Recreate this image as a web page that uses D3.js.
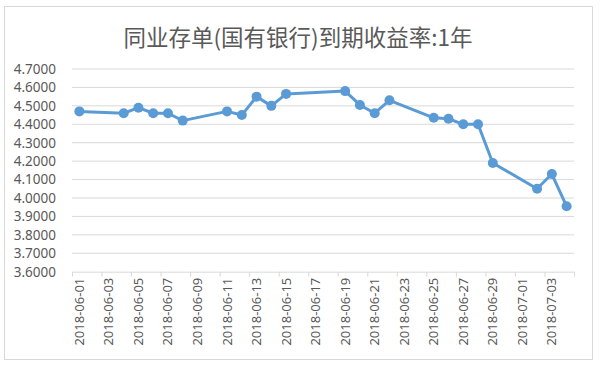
<!DOCTYPE html>
<html>
<head>
<meta charset="utf-8">
<script src="https://cdn.jsdelivr.net/npm/d3@7"></script>
<style>
  html, body { margin: 0; padding: 0; background: #fff; }
  svg { display: block; }
</style>
</head>
<body>
<svg id="chart" width="600" height="365"></svg>
<script>
const title = "同业存单(国有银行)到期收益率:1年";
const dates = ["2018-06-01","2018-06-04","2018-06-05","2018-06-06","2018-06-07","2018-06-08",
  "2018-06-11","2018-06-12","2018-06-13","2018-06-14","2018-06-15",
  "2018-06-19","2018-06-20","2018-06-21","2018-06-22",
  "2018-06-25","2018-06-26","2018-06-27","2018-06-28","2018-06-29",
  "2018-07-02","2018-07-03","2018-07-04"];
const values = [4.47,4.46,4.49,4.46,4.46,4.42,
  4.47,4.45,4.55,4.50,4.565,
  4.58,4.505,4.46,4.53,
  4.435,4.43,4.40,4.40,4.19,
  4.05,4.13,3.955];
const yTicks = [3.6,3.7,3.8,3.9,4.0,4.1,4.2,4.3,4.4,4.5,4.6,4.7];
const xDomain = ["2018-06-01","2018-07-05"];

const parse = d3.utcParse("%Y-%m-%d");
const fmtDate = d3.utcFormat("%Y-%m-%d");
const svg = d3.select("#chart");
const plotLeft = 72, plotRight = 574, plotTop = 69, plotBottom = 271.7;

// chart border
svg.append("rect").attr("x", 4.5).attr("y", 6.5).attr("width", 588).attr("height", 353)
  .attr("fill", "#fff").attr("stroke", "#d9d9d9").attr("stroke-width", 1);

svg.append("text").attr("x", 298).attr("y", 46).attr("text-anchor", "middle")
  .attr("font-family", "'Noto Sans CJK SC', 'Noto Sans', sans-serif")
  .attr("font-size", 22.5).attr("fill", "#595959").text(title);

const x = d3.scaleUtc().domain(xDomain.map(parse)).range([plotLeft, plotRight]);
const y = d3.scaleLinear().domain([3.6, 4.7]).range([plotBottom, plotTop]);

// gridlines
svg.append("g").selectAll("line").data(yTicks.filter(v => v > 3.6)).join("line")
  .attr("x1", plotLeft).attr("x2", plotRight)
  .attr("y1", d => y(d)).attr("y2", d => y(d))
  .attr("stroke", "#d9d9d9").attr("stroke-width", 1);

// y axis labels
const yAxis = d3.axisLeft(y).tickValues(yTicks).tickFormat(d3.format(".4f")).tickSize(0).tickPadding(0);
const gy = svg.append("g").attr("transform", `translate(56,0)`).call(yAxis);
gy.select(".domain").remove();
gy.selectAll("text").attr("font-family", "'Noto Sans', sans-serif").attr("font-size", 13.5).attr("fill", "#595959");

// x axis
const tickDates = d3.utcDay.every(2).range(parse(xDomain[0]), d3.utcDay.offset(parse(xDomain[1]), 1))
  .filter(d => d <= parse(xDomain[1]));
const xAxisTicks = d3.axisBottom(x).tickValues(tickDates).tickFormat("").tickSizeOuter(0).tickSizeInner(5);
const gx = svg.append("g").attr("transform", `translate(0,${plotBottom})`).call(xAxisTicks);
gx.select(".domain").attr("stroke", "#d9d9d9");
gx.selectAll(".tick line").attr("stroke", "#d9d9d9");

const labelDates = tickDates.filter(d => d < parse(xDomain[1]));
svg.append("g").selectAll("text").data(labelDates).join("text")
  .attr("transform", d => `translate(${x(d3.utcHour.offset(d, 12)) + 4.5},${plotBottom + 6}) rotate(-90)`)
  .attr("text-anchor", "end")
  .attr("font-family", "'Noto Sans', sans-serif").attr("font-size", 13).attr("fill", "#595959")
  .text(d => fmtDate(d));

// series
const pts = dates.map((d, i) => ({ d: d3.utcHour.offset(parse(d), 12), v: values[i] }));
const line = d3.line().x(p => x(p.d)).y(p => y(p.v));
svg.append("path").datum(pts).attr("d", line).attr("fill", "none")
  .attr("stroke", "#5B9BD5").attr("stroke-width", 3).attr("stroke-linejoin", "round");
svg.append("g").selectAll("circle").data(pts).join("circle")
  .attr("cx", p => x(p.d)).attr("cy", p => y(p.v)).attr("r", 5)
  .attr("fill", "#5B9BD5");
</script>
</body>
</html>
